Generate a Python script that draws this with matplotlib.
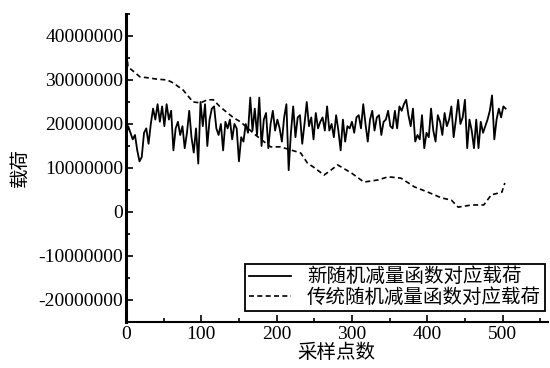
import matplotlib
matplotlib.use("Agg")
import matplotlib.pyplot as plt
from matplotlib.ticker import MultipleLocator, FuncFormatter

plt.rcParams['font.family'] = ['Liberation Serif', 'Noto Sans CJK SC']
plt.rcParams['axes.unicode_minus'] = False

# new method load, one value every 3 samples (millions)
new_x = list(range(0, 505, 3))
new_load = [
    17.0, 19.5, 18.0, 16.5, 17.5, 14.0, 11.5, 12.5, 18.0, 19.0,
    15.5, 20.0, 23.5, 21.0, 24.5, 20.5, 24.0, 19.5, 24.5, 21.0,
    23.0, 14.0, 19.0, 20.5, 17.5, 19.5, 14.5, 18.0, 23.0, 17.0,
    13.5, 19.0, 11.0, 25.0, 19.5, 24.5, 15.0, 21.0, 23.5, 24.0,
    19.0, 17.5, 20.0, 14.0, 20.5, 19.0, 21.0, 16.5, 20.0, 19.0,
    11.5, 17.0, 16.0, 20.0, 18.0, 26.0, 18.5, 23.5, 17.5, 26.0,
    15.0, 21.0, 22.5, 14.5, 20.0, 23.0, 18.5, 21.0, 19.0, 16.0,
    21.5, 24.5, 9.5, 18.0, 24.0, 17.0, 21.5, 22.0, 15.5, 20.0,
    25.0, 19.5, 21.5, 16.5, 22.5, 19.0, 20.5, 21.5, 18.5, 24.0,
    18.5, 20.0, 17.0, 22.0, 18.5, 14.0, 21.0, 16.0, 19.5, 19.0,
    20.5, 18.0, 21.5, 22.0, 19.0, 24.5, 20.0, 16.0, 21.0, 23.0,
    18.5, 21.5, 22.0, 17.5, 20.5, 21.0, 23.0, 19.5, 19.0, 23.0,
    19.0, 24.0, 23.0, 24.5, 25.5, 22.0, 19.5, 23.5, 16.0, 17.5,
    16.5, 22.0, 14.5, 18.0, 17.0, 23.5, 18.5, 16.0, 22.0, 20.5,
    17.5, 22.5, 19.5, 21.0, 24.0, 17.0, 21.0, 25.5, 20.0, 21.5,
    25.5, 14.5, 21.0, 18.5, 14.5, 21.0, 14.5, 20.5, 18.0, 19.5,
    21.0, 23.0, 26.5, 16.5, 21.0, 23.5, 21.5, 24.0, 23.5,
]

# traditional method load (millions)
old_x = [0, 2.7, 18.7, 29.3, 41, 55, 63, 76, 89, 99, 108, 116, 125, 135, 143,
         152, 172, 192, 205, 219, 232, 241, 249, 263, 272, 281, 299, 316, 335,
         348, 365, 383, 401, 419, 432, 441, 459, 475, 485, 499, 503]
old_load = [38.0, 33.0, 30.7, 30.5, 30.2, 30.0, 29.3, 27.7, 25.0, 24.8, 25.5,
            25.5, 23.9, 22.5, 21.4, 20.5, 17.5, 14.8, 14.8, 14.1, 13.4, 11.1,
            10.2, 8.4, 9.5, 10.7, 8.9, 6.8, 7.3, 8.0, 7.7, 5.7, 4.5, 3.2, 2.7,
            1.1, 1.6, 1.6, 3.9, 4.5, 6.6]

labels = ['新随机减量函数对应载荷', '传统随机减量函数对应载荷']

fig = plt.figure(figsize=(5.5, 3.68), dpi=100)
ax = fig.add_axes([0.229, 0.125, 0.767, 0.837])

ax.plot(new_x, [v * 1e6 for v in new_load], color='black', lw=1.3, label=labels[0])
ax.plot(old_x, [v * 1e6 for v in old_load], color='black', lw=1.2,
        linestyle=(0, (3, 2)), label=labels[1])

ax.set_xlim(0, 560)
ax.set_ylim(-25e6, 45e6)
ax.xaxis.set_major_locator(MultipleLocator(100))
ax.xaxis.set_minor_locator(MultipleLocator(50))
ax.yaxis.set_major_locator(MultipleLocator(10e6))
ax.yaxis.set_minor_locator(MultipleLocator(5e6))
ax.yaxis.set_major_formatter(FuncFormatter(lambda v, p: '%d' % round(v)))

ax.spines['top'].set_visible(False)
ax.spines['right'].set_visible(False)
ax.spines['left'].set_linewidth(2.2)
ax.spines['bottom'].set_linewidth(1.5)
ax.tick_params(which='both', direction='in', labelsize=14, width=1.2)
ax.tick_params(which='major', length=5, pad=2)
ax.tick_params(which='minor', length=3)
ax.tick_params(axis='x', which='major', pad=3)

ax.set_xlabel('采样点数', fontsize=14, labelpad=0)
ax.set_ylabel('载荷', fontsize=14, labelpad=6)

leg = ax.legend(loc='lower right', bbox_to_anchor=(0.993, 0.036), fontsize=14,
                frameon=True, fancybox=False, edgecolor='black', framealpha=1,
                handlelength=2.2, handletextpad=0.8, borderpad=0.2,
                labelspacing=0.1, borderaxespad=0)
leg.get_frame().set_linewidth(1.3)

fig.savefig('out.png', dpi=100)
